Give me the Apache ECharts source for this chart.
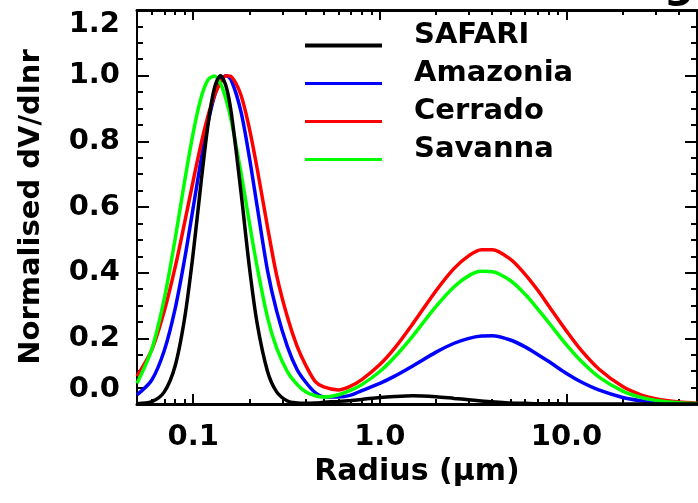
<!DOCTYPE html>
<html>
<head>
<meta charset="utf-8">
<script src="https://cdn.jsdelivr.net/npm/echarts@6/dist/echarts.min.js"></script>
<style>
  html, body { margin: 0; padding: 0; background: #ffffff; }
  #chart { width: 698px; height: 503px; }
</style>
</head>
<body>
<div id="chart"></div>
<script>
// Particle radius (µm) at which each normalised volume size distribution is sampled
const radius = [0.05, 0.06, 0.07, 0.08, 0.09, 0.10, 0.11, 0.12, 0.13, 0.14, 0.15, 0.16, 0.18, 0.20, 0.22,
  0.25, 0.28, 0.32, 0.36, 0.40, 0.45, 0.50, 0.6, 0.7, 0.8, 1.0, 1.2, 1.5, 2.0, 2.5, 3.0, 3.5, 4.0,
  5.0, 6.0, 7.0, 8.0, 10, 12, 15, 20, 25, 30, 40, 50];

// Normalised dV/dlnr for each biomass burning model
const safari = [0.001, 0.007, 0.037, 0.116, 0.262, 0.459, 0.671, 0.850, 0.963, 1.000, 0.968, 0.886, 0.649, 0.417, 0.246,
  0.100, 0.037, 0.009, 0.003, 0.002, 0.003, 0.005, 0.008, 0.011, 0.014, 0.020, 0.023, 0.025, 0.022, 0.017, 0.013, 0.009, 0.007,
  0.003, 0.002, 0.001, 0.001, 0, 0, 0, 0, 0, 0, 0, 0];
const amazonia = [0.028, 0.073, 0.163, 0.290, 0.442, 0.598, 0.741, 0.856, 0.938, 0.985, 1.000, 0.986, 0.892, 0.751, 0.603,
  0.407, 0.283, 0.174, 0.105, 0.067, 0.035, 0.022, 0.021, 0.027, 0.041, 0.063, 0.085, 0.116, 0.158, 0.185, 0.200, 0.207, 0.208,
  0.195, 0.174, 0.151, 0.130, 0.093, 0.067, 0.042, 0.020, 0.010, 0.005, 0.002, 0.001];
const cerrado = [0.085, 0.165, 0.283, 0.416, 0.553, 0.680, 0.790, 0.877, 0.940, 0.979, 1.000, 0.997, 0.942, 0.839, 0.718,
  0.540, 0.392, 0.264, 0.176, 0.119, 0.069, 0.052, 0.043, 0.055, 0.074, 0.120, 0.170, 0.244, 0.345, 0.413, 0.452, 0.470, 0.470,
  0.441, 0.395, 0.347, 0.300, 0.222, 0.163, 0.105, 0.053, 0.028, 0.016, 0.006, 0.0025];
const savanna = [0.063, 0.167, 0.321, 0.502, 0.679, 0.826, 0.931, 0.987, 0.999, 0.976, 0.927, 0.862, 0.707, 0.552, 0.418,
  0.264, 0.170, 0.098, 0.060, 0.037, 0.025, 0.021, 0.028, 0.042, 0.059, 0.099, 0.143, 0.207, 0.297, 0.357, 0.391, 0.404, 0.403,
  0.376, 0.334, 0.290, 0.249, 0.180, 0.130, 0.081, 0.039, 0.020, 0.011, 0.004, 0.0015];

const seriesNames = ['SAFARI', 'Amazonia', 'Cerrado', 'Savanna'];
const seriesColors = ['#000000', '#0000ff', '#ff0000', '#00ff00'];

// Axis ticks and labels
const xMajorTicks = [0.1, 1, 10];
const xMajorLabels = ['0.1', '1.0', '10.0'];
const xMinorTicks = [0.06, 0.07, 0.08, 0.09, 0.2, 0.3, 0.4, 0.5, 0.6, 0.7, 0.8, 0.9,
  2, 3, 4, 5, 6, 7, 8, 9, 20, 30, 40];
const yLabelDigits = 1;

const FONT = 'DejaVu Sans';
const INK = '#000000';

function pairs(values) {
  return radius.map((r, i) => [r, values[i]]);
}

function xLabel(v) {
  const k = xMajorTicks.findIndex(t => Math.abs(t - v) < 1e-6 * t);
  return k >= 0 ? xMajorLabels[k] : '';
}

const textBold = { fontFamily: FONT, fontWeight: 'bold', fontSize: 29, color: INK };

function logAxis(position, ticks, tickLen, withLine, withLabels) {
  return {
    type: 'log', logBase: 10, min: 0.05, max: 50, gridIndex: 0, position: position,
    splitLine: { show: false },
    axisLine: { show: withLine, lineStyle: { color: INK, width: 3 } },
    axisTick: { show: true, inside: true, length: tickLen, customValues: ticks,
      lineStyle: { color: INK, width: 2 } },
    axisLabel: withLabels
      ? Object.assign({ show: true, customValues: ticks, formatter: xLabel, margin: 19 }, textBold)
      : { show: false }
  };
}

function valueAxis(position, withLabels) {
  return {
    type: 'value', min: 0, max: 1.2, interval: 0.2, gridIndex: 0, position: position,
    splitLine: { show: false },
    axisLine: { show: true, lineStyle: { color: INK, width: 2 } },
    axisTick: { show: true, inside: true, length: 12, lineStyle: { color: INK, width: 2 } },
    minorTick: { show: true, splitNumber: 4, length: 6, lineStyle: { color: INK, width: 2 } },
    axisLabel: withLabels
      ? Object.assign({
          show: true, margin: 17,
          formatter: v => v.toFixed(yLabelDigits),
          verticalAlignMinLabel: 'bottom', verticalAlignMaxLabel: 'top'
        }, textBold)
      : { show: false }
  };
}

const bottomMajor = logAxis('bottom', xMajorTicks, 10, true, true);
bottomMajor.name = 'Radius (\u03bcm)';
bottomMajor.nameLocation = 'middle';
bottomMajor.nameGap = 50;
bottomMajor.nameTextStyle = { fontFamily: FONT, fontWeight: 'bold', fontSize: 30, color: INK };

const leftAxis = valueAxis('left', true);
leftAxis.name = 'Normalised dV/dlnr';
leftAxis.nameLocation = 'middle';
leftAxis.nameGap = 91;
leftAxis.nameTextStyle = { fontFamily: FONT, fontWeight: 'bold', fontSize: 29, color: INK };

// Legend glyphs: a bar resting at the foot of each legend row
function legendBar(top, bottom) {
  return 'path://M0,0 M77,24 M0,' + top + ' L77,' + top + ' L77,' + bottom + ' L0,' + bottom + ' Z';
}

const drawOrder = [1, 2, 3, 0];

const option = {
  backgroundColor: '#ffffff',
  animation: false,
  title: {
    text: 'Biomass Burning',
    left: 290, top: -40,
    textStyle: { fontFamily: FONT, fontWeight: 'bold', fontSize: 42, color: INK }
  },
  grid: { left: 137, right: 1, top: 10, bottom: 99, containLabel: false, outerBoundsMode: 'none' },
  legend: {
    orient: 'vertical', left: 300, top: 16,
    itemWidth: 77, itemHeight: 24, itemGap: 9,
    selectedMode: false,
    itemStyle: { borderWidth: 0 },
    data: seriesNames.map((n, i) => ({
      name: n,
      icon: i === 0 ? legendBar(20, 24) : legendBar(20.5, 23.5)
    })),
    formatter: '{t|{name}}',
    textStyle: {
      fontFamily: FONT, fontWeight: 'bold', fontSize: 29, color: INK,
      rich: { t: { fontFamily: FONT, fontWeight: 'bold', fontSize: 29, color: INK,
        lineHeight: 24, padding: [0, 0, 0, 27] } }
    }
  },
  xAxis: [
    bottomMajor,
    logAxis('bottom', xMinorTicks, 5, false, false),
    logAxis('top', xMajorTicks, 10, true, false),
    logAxis('top', xMinorTicks, 5, false, false)
  ],
  yAxis: [leftAxis, valueAxis('right', false)],
  series: drawOrder.map(i => ({
    name: seriesNames[i],
    type: 'line',
    xAxisIndex: 0, yAxisIndex: 0,
    data: pairs([safari, amazonia, cerrado, savanna][i]),
    showSymbol: false,
    smooth: 0.3,
    color: seriesColors[i],
    itemStyle: { color: seriesColors[i], borderWidth: 0 },
    lineStyle: { color: seriesColors[i], width: 3.5 }
  }))
};

const chart = echarts.init(document.getElementById('chart'), null, { renderer: 'canvas' });
chart.setOption(option);
</script>
</body>
</html>
